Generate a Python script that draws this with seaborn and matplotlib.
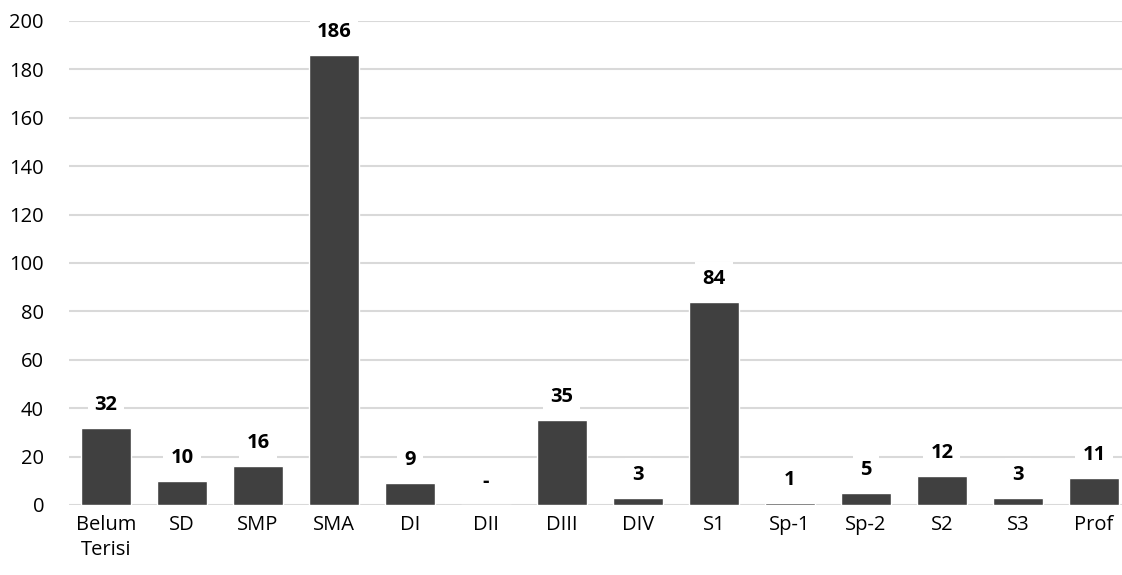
import matplotlib
matplotlib.use('Agg')
import matplotlib.pyplot as plt
import seaborn as sns
import pandas as pd

# Chart data
categories = ['Belum\nTerisi', 'SD', 'SMP', 'SMA', 'DI', 'DII', 'DIII', 'DIV',
              'S1', 'Sp-1', 'Sp-2', 'S2', 'S3', 'Prof']
values = [32, 10, 16, 186, 9, 0, 35, 3, 84, 1, 5, 12, 3, 11]
value_labels = ['32', '10', '16', '186', '9', '-', '35', '3', '84', '1', '5', '12', '3', '11']
y_ticks = [0, 20, 40, 60, 80, 100, 120, 140, 160, 180, 200]

sns.set_style('white')
plt.rcParams['font.family'] = ['Open Sans', 'DejaVu Sans']

df = pd.DataFrame({'category': categories, 'value': values})

fig = plt.figure(figsize=(11.22, 5.75), dpi=100)
ax = fig.add_axes([69 / 1122, 70 / 575, (1122 - 69) / 1122, (505 - 21) / 575])

sns.barplot(data=df, x='category', y='value', color='#404040', width=0.66,
            saturation=1, ax=ax, zorder=3)

ax.set_ylim(0, 200)
ax.set_xlim(-0.487, 13.37)
ax.set_yticks(y_ticks)
ax.yaxis.grid(True, color='#d9d9d9', linewidth=1.5, zorder=0)
ax.set_axisbelow(True)
for s in ax.spines.values():
    s.set_visible(False)
ax.set_xlabel('')
ax.set_ylabel('')
ax.tick_params(axis='both', length=0, labelsize=14.5, colors='#000000')
ax.tick_params(axis='x', pad=7)
ax.tick_params(axis='y', pad=18)
for t in ax.get_xticklabels():
    t.set_linespacing(1.35)

# Value labels with white box that breaks the gridlines
for i, (v, lab) in enumerate(zip(values, value_labels)):
    ax.annotate(lab, (i, v), xytext=(0, 23), textcoords='offset pixels',
                ha='center', va='center', fontsize=14.5, fontweight='bold', color='#000000',
                bbox=dict(boxstyle='square,pad=0.35', fc='white', ec='none'), zorder=4)

fig.savefig('out.png', dpi=100)
